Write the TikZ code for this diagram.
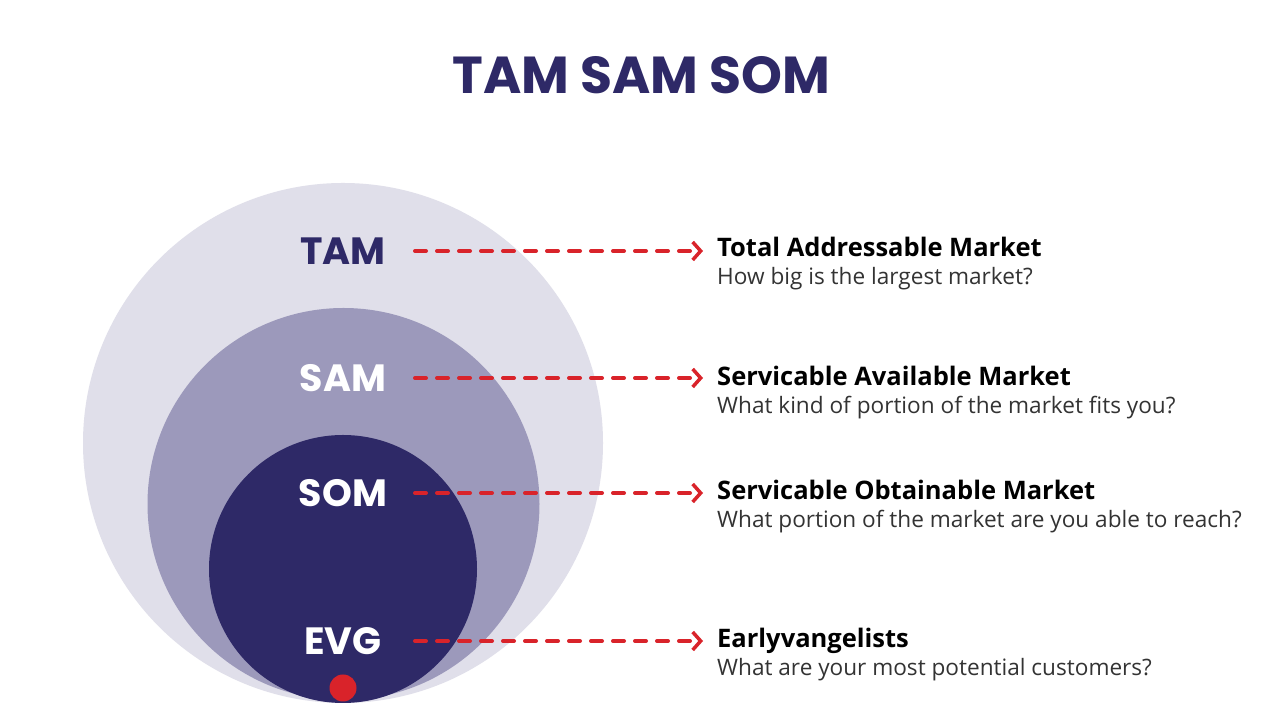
\documentclass[tikz,border=0pt]{standalone}
\usepackage{fontspec}
\setmainfont{Open Sans}
\newfontfamily\popfont{Poppins}
\definecolor{tamnavy}{RGB}{46, 41, 103}
\definecolor{tamlight}{RGB}{224, 223, 234}
\definecolor{sammid}{RGB}{156, 153, 187}
\definecolor{arrred}{RGB}{217, 35, 42}
\definecolor{subgray}{RGB}{51, 51, 51}
\usetikzlibrary{arrows.meta, positioning, calc}

\begin{document}
\begin{tikzpicture}[
  x=1pt, y=1pt,
  clabel/.style={font=\popfont\bfseries\fontsize{38}{40}\selectfont, inner sep=0pt},
  rtitle/.style={anchor=base west, font=\bfseries\fontsize{25.5}{28}\selectfont, text=black, inner sep=0pt},
  rsub/.style={anchor=base west, font=\fontsize{22.6}{25}\selectfont, text=subgray, inner sep=0pt},
  darrow/.style={draw=arrred, line width=4pt, line cap=round, dash pattern=on 11pt off 11pt,
    -{Straight Barb[length=8pt, width=18pt, line width=3.5pt]}}
]
  \useasboundingbox (0, 0) rectangle (1280, 708);
  \fill[white] (0, 0) rectangle (1280, 708);

  \node[font=\popfont\bfseries\fontsize{52}{56}\selectfont, text=tamnavy] (title) at (641, 633) {TAM SAM SOM};

  \fill[tamlight] (343, 265) circle (260);
  \fill[sammid] (343.5, 204) circle (196);
  \fill[tamnavy] (343, 139) circle (134);
  \fill[arrred] (343, 20) circle (13.5);

  \node[clabel, text=tamnavy] (tam) at (343, 457) {TAM};
  \node[clabel, text=white] (sam) at (343, 330) {SAM};
  \node[clabel, text=white] (som) at (343, 215) {SOM};
  \node[clabel, text=white] (evg) at (343, 67) {EVG};

  \node[rtitle] (tamt) at (717, 451) {Total Addressable Market};
  \node[rsub] (tams) at (717, 423) {How big is the largest market?};
  \node[rtitle] (samt) at (717, 322) {Servicable Available Market};
  \node[rsub] (sams) at (717, 294) {What kind of portion of the market fits you?};
  \node[rtitle] (somt) at (717, 208) {Servicable Obtainable Market};
  \node[rsub] (soms) at (717, 180) {What portion of the market are you able to reach?};
  \node[rtitle] (evgt) at (717, 60) {Earlyvangelists};
  \node[rsub] (evgs) at (717, 32) {What are your most potential customers?};

  \draw[darrow, shorten <=72pt, shorten >=14pt] (tam.center) -- (tam.center -| tamt.west);
  \draw[darrow, shorten <=72pt, shorten >=14pt] (sam.center) -- (sam.center -| samt.west);
  \draw[darrow, shorten <=72pt, shorten >=14pt] (som.center) -- (som.center -| somt.west);
  \draw[darrow, shorten <=72pt, shorten >=14pt] (evg.center) -- (evg.center -| evgt.west);
\end{tikzpicture}
\end{document}
